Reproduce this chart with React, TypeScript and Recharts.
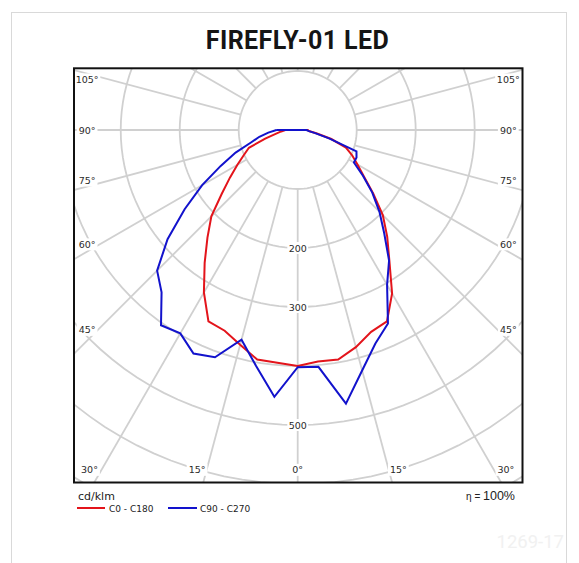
import { ComposedChart, Line, Scatter, XAxis, YAxis } from "recharts";

// gamma angles (0° = straight down)
const ANGLES = [0, 5, 10, 15, 20, 25, 30, 35, 40, 45, 50, 55, 60, 65, 70, 75, 80, 85, 90];

// cd/klm, red plane C0 - C180 (C0 right half, C180 left half)
const C0 = [400, 394, 395, 381, 364, 358, 320, 271, 236, 204, 167, 137, 117, 102, 87, 59, 32, 19, 17];
const C180 = [400, 396, 395, 377, 362, 358, 318, 275, 238, 207, 168, 140, 118, 101, 88, 57, 38, 28, 21];

// blue plane C90 - C270 (C90 right half, C270 left half)
const C90 = [402, 403, 471, 422, 385, 362, 303, 270, 228, 196, 165, 135, 110, 110, 106, 55, 30, 18, 15];
const C270 = [402, 454, 406, 368, 410, 418, 398, 404, 359, 337, 288, 234, 187, 144, 112, 82, 66, 50, 36];

const RINGS = [100, 200, 300, 400, 500, 600, 700];
const RING_LABELS = [200, 300, 500];
const SPOKES = [0, 15, 30, 45, 60, 75, 90, 105, 120, 135, 150, 165, 180, 195, 210, 225, 240, 255, 270, 285, 300, 315, 330, 345];
const ANGLE_LABELS = [0, 15, 30, 45, 60, 75, 90, 105];

const RED = "#e3141b";
const BLUE = "#1212cc";
const GRID = "#d0d0d0";

const W = 579;
const H = 563;

const rad = Math.PI / 180;
const polar = (r: number, a: number, side = 1) => ({
  x: side * r * Math.sin(a * rad),
  y: -r * Math.cos(a * rad),
});

function outline(left: number[], right: number[]) {
  const pts = [];
  for (let i = ANGLES.length - 1; i >= 0; i--) pts.push(polar(left[i], ANGLES[i], -1));
  for (let i = 0; i < ANGLES.length; i++) pts.push(polar(right[i], ANGLES[i], 1));
  pts.push(pts[0]);
  return pts;
}

const ring = (v: number) => {
  const pts = [];
  for (let a = 0; a <= 360; a += 3) pts.push(polar(v, a));
  return pts;
};

// where the angle labels sit (data units from the centre)
const LABEL_X = 357;
const LABEL_Y = 576;
function angleLabel(a: number, side: number) {
  const nudge = a === 0 || a === 90 ? 0 : a < 90 ? 1.5 : -1.5;
  const s = Math.sin((a + nudge) * rad);
  const c = Math.cos((a + nudge) * rad);
  let k = s > 1e-6 ? LABEL_X / s : 1e9;
  if (c > 0) k = Math.min(k, LABEL_Y / c);
  return { x: side * k * s, y: -k * c, text: `${a}°` };
}

const labels = [
  ...ANGLE_LABELS.map((a) => angleLabel(a, -1)),
  ...ANGLE_LABELS.filter((a) => a > 0).map((a) => angleLabel(a, 1)),
  ...RING_LABELS.map((v) => ({ x: 0, y: -v, text: String(v) })),
];

const LabelShape = (props: any) => {
  const { cx, cy, payload } = props;
  const text: string = payload.text;
  const w = text.length * 5.6 + 4;
  return (
    <g>
      <rect x={cx - w / 2} y={cy - 6} width={w} height={12} fill="#fff" />
      <text
        x={cx}
        y={cy}
        textAnchor="middle"
        dominantBaseline="central"
        fontSize={9.5}
        fontFamily="DejaVu Sans"
        fill="#2a2a2a"
      >
        {text}
      </text>
    </g>
  );
};

export default function App() {
  return (
    <div style={{ position: "absolute", left: 0, top: 0, width: W, height: H, background: "#fff" }}>
      <ComposedChart width={W} height={H} margin={{ top: 68, left: 74, right: 56, bottom: 80 }}>
        <XAxis type="number" dataKey="x" domain={[-379.2, 381.9]} allowDataOverflow hide />
        <YAxis type="number" dataKey="y" domain={[-598.3, 105.1]} allowDataOverflow hide />
        {RINGS.map((v) => (
          <Line
            key={`ring${v}`}
            data={ring(v)}
            dataKey="y"
            stroke={GRID}
            strokeWidth={1.8}
            dot={false}
            activeDot={false}
            isAnimationActive={false}
          />
        ))}
        {SPOKES.map((a) => (
          <Line
            key={`spoke${a}`}
            data={[polar(100, a), polar(1000, a)]}
            dataKey="y"
            stroke={GRID}
            strokeWidth={1.8}
            dot={false}
            activeDot={false}
            isAnimationActive={false}
          />
        ))}
        <Line
          data={outline(C180, C0)}
          dataKey="y"
          stroke={RED}
          strokeWidth={2}
          dot={false}
          activeDot={false}
          isAnimationActive={false}
        />
        <Line
          data={outline(C270, C90)}
          dataKey="y"
          stroke={BLUE}
          strokeWidth={2}
          dot={false}
          activeDot={false}
          isAnimationActive={false}
        />
        <Scatter data={labels} shape={LabelShape} isAnimationActive={false} />
      </ComposedChart>
      <svg
        width={W}
        height={H}
        style={{ position: "absolute", left: 0, top: 0, pointerEvents: "none" }}
      >
        <rect x={11.5} y={12.5} width={555} height={600} fill="none" stroke="#d9d9d9" />
        <text
          x={297.5}
          y={49}
          textAnchor="middle"
          fontFamily="Roboto"
          fontWeight={700}
          fontSize={25}
          letterSpacing={0.4}
          fill="#151515"
        >
          FIREFLY-01 LED
        </text>
        <rect x={74} y={68.3} width={448.5} height={414.2} fill="none" stroke="#111" strokeWidth={2} />
        <text x={78} y={500} fontFamily="DejaVu Sans" fontSize={11} fill="#222">
          cd/klm
        </text>
        <line x1={77} y1={508} x2={105} y2={508} stroke={RED} strokeWidth={2} />
        <text x={109} y={512} fontFamily="DejaVu Sans" fontSize={9} fill="#222">
          C0 - C180
        </text>
        <line x1={168} y1={508} x2={197} y2={508} stroke={BLUE} strokeWidth={2} />
        <text x={200} y={512} fontFamily="DejaVu Sans" fontSize={9} fill="#222">
          C90 - C270
        </text>
        <text x={515} y={500} textAnchor="end" fontFamily="Liberation Sans" fontSize={12.5} fill="#222">
          <tspan fontSize={10}>η = </tspan>100%
        </text>
        <text x={564} y={548} textAnchor="end" fontFamily="Roboto" fontSize={18.5} fill="#f1f1f1">
          1269-17
        </text>
      </svg>
    </div>
  );
}
